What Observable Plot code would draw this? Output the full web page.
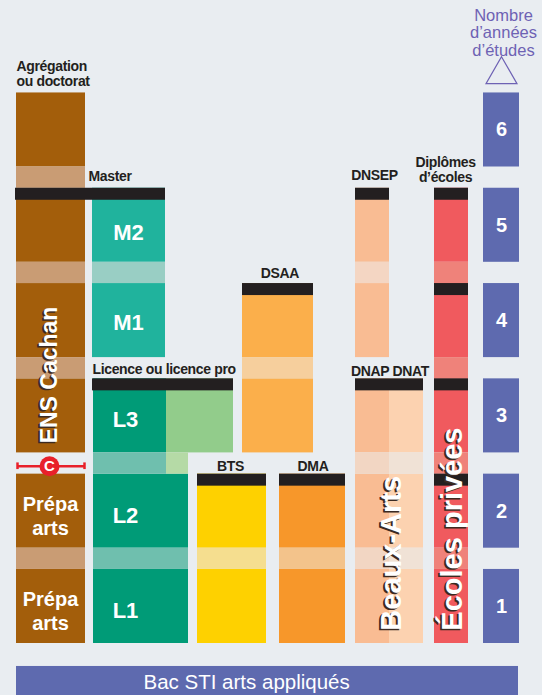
<!DOCTYPE html>
<html><head><meta charset="utf-8">
<script src="https://cdn.jsdelivr.net/npm/d3@7"></script>
<script src="https://cdn.jsdelivr.net/npm/@observablehq/plot@0.6"></script>
<style>body{margin:0;background:#E9EDF1;} svg{display:block}</style>
</head><body><div id="chart"></div><script>
// ---------- DATA ----------
const programmes  = ["Prépa arts","ENS Cachan","Licence","Licence pro","Master","BTS","DMA","DSAA","DNAP","DNAT","DNSEP","Écoles privées"];
const startYears  = [0, 2, 0, 2, 3, 0, 0, 2, 0, 0, 3, 0];
const endYears    = [2, 6, 3, 3, 5, 2, 2, 4, 3, 3, 5, 5];
const mainColors  = ["#A35E0B","#A35E0B","#009B77","#92CC8B","#20B39D","#FED100","#F7972A","#FBAF4B","#F9BC93","#FCD2B0","#F9BC93","#F05A5E"];
const bandColors  = ["#C99C74","#C99C74","#6FBFAE","#B5DAA6","#99CEC4","#F5DE8F","#F3C38B","#F6CF9D","#F2D6C3","#F0E2D6","#F4D6C3","#EF827A"];

const diplomaBars     = ["Master","Licence","BTS","DMA","DSAA","DNSEP","DNAP DNAT","Écoles","Écoles","Écoles","Écoles"];
const diplomaBarYears = [5, 3, 2, 2, 4, 5, 3, 5, 4, 3, 2];

const diplomaLabels = ["Agrégation\nou doctorat","Master","Licence ou licence pro","BTS","DMA","DSAA","DNSEP","DNAP DNAT","Diplômes\nd’écoles"];
const diplomaLabelYears = [6, 5, 3, 2, 2, 4, 5, 3, 5];

const levelLabels = ["L1","L2","L3","M1","M2"];
const levelYears  = [1, 2, 3, 4, 5];
const prepaLabels = ["Prépa\narts","Prépa\narts"];
const prepaYears  = [1, 2];
const yearNumbers = [1, 2, 3, 4, 5, 6];
const verticalLabels = ["ENS Cachan","Beaux-Arts","Écoles privées"];
const baseLabel = "Bac STI arts appliqués";
const axisTitle = "Nombre\nd’années\nd’études";

// ---------- LAYOUT ----------
const S = 0.777;   // solid share of each year (rest = transition band)
const T = 0.126;   // thickness of diploma bar (years)
const layout = {
  colX: {"Prépa arts":[16,85],"ENS Cachan":[16,85],"Licence":[93,188],"Licence pro":[166,233],"Master":[92,165],
         "BTS":[197,266],"DMA":[279,345],"DSAA":[242,313],"DNAP":[355,389],"DNAT":[389,423],"DNSEP":[355,389],"Écoles privées":[434,468]},
  l3Right: 166,
  barX: {"Master":[15,165],"Licence":[92,233],"BTS":[197,266],"DMA":[279,345],"DSAA":[242,313],"DNSEP":[355,389],"DNAP DNAT":[355,423],"Écoles":[434,468]},
  labelX: [16, 88, 92, 230, 312.5, 279.5, 374, 389.5, 445],
  labelAnchor: ["start","start","start","middle","middle","middle","middle","middle","middle"],
  labelDy: [-19, -11.5, -10, -7.5, -7.5, -10.5, -12.5, -8, -18.5],
  levelX: [125,125,125,128,128],
  levelDy: [4,5,4,2,8],
  yearBoxX: [483,519],
  vert: [{x:49, y:2.1}, {x:391, y:0.135}, {x:452, y:0.135}],
  vertSize: [23, 29, 29]
};

// ---------- BUILD ----------
const solids = [], bands = [];
programmes.forEach((p, i) => {
  const a = startYears[i], b = endYears[i];
  const [x1, x2] = layout.colX[p];
  const right = k => (p === "Licence" && k === 3) ? layout.l3Right : x2;
  for (let k = a + 1; k <= b; k++) {
    solids.push({x1, x2: right(k), y1: k - 1, y2: k - 1 + S, fill: mainColors[i]});
    if (k < b) {
      const r = Math.min(right(k), right(k + 1));
      bands.push({x1, x2: r, y1: k - 1 + S, y2: k, fill: bandColors[i]});
      if (r < right(k)) {
        const j = programmes.indexOf("Licence pro");
        bands.push({x1: r, x2: right(k), y1: k - 1 + S, y2: k, fill: bandColors[j]});
      }
    }
  }
});
const bars = diplomaBars.map((d, i) => ({x1: layout.barX[d][0], x2: layout.barX[d][1], y1: diplomaBarYears[i] - 1 + S - T, y2: diplomaBarYears[i] - 1 + S}));
const labels = diplomaLabels.map((t, i) => ({t, x: layout.labelX[i], y: diplomaLabelYears[i] - 1 + S, dy: layout.labelDy[i], anchor: layout.labelAnchor[i]}));
const levels = levelLabels.map((t, i) => ({t, x: layout.levelX[i], y: levelYears[i] - 1 + S / 2, dy: layout.levelDy[i]}));
const prepas = prepaLabels.map((t, i) => ({t, x: 50, y: prepaYears[i] - 1 + S / 2}));
const yearBoxes = yearNumbers.map(k => ({k, y1: k - 1, y2: k - 1 + S}));
const verts = verticalLabels.map((t, i) => ({t, ...layout.vert[i], size: layout.vertSize[i]}));

const FONT = "'Liberation Sans', Arial, sans-serif";
const BLACK = "#231F20", PURPLE = "#5E6AAF", RED = "#E8202A";

const marks = [
  Plot.rect(solids, {x1:"x1", x2:"x2", y1:"y1", y2:"y2", fill:"fill"}),
  Plot.rect(bands,  {x1:"x1", x2:"x2", y1:"y1", y2:"y2", fill:"fill"}),
  Plot.rect(bars,   {x1:"x1", x2:"x2", y1:"y1", y2:"y2", fill: BLACK}),
  Plot.rect(yearBoxes, {x1: layout.yearBoxX[0], x2: layout.yearBoxX[1], y1:"y1", y2:"y2", fill: PURPLE}),
  Plot.text(yearBoxes, {x: (layout.yearBoxX[0] + layout.yearBoxX[1]) / 2, y: d => d.y1 + S / 2, text: d => String(d.k), fill:"white", fontSize:20, fontWeight:"bold", fontFamily: FONT}),
  // base bar
  Plot.rect([baseLabel], {x1:16, x2:518, y1:-0.6, y2:-0.241, fill: PURPLE}),
  Plot.text([baseLabel], {x:143, y:-0.405, text: d => d, textAnchor:"start", fill:"white", fontSize:20.5, fontFamily: FONT}),
  // axis title + triangle
  Plot.text([axisTitle], {x:503, y:6, dy:-39, text: d => d, fill:"#6E62B4", fontSize:16.5, lineHeight:1.06, fontFamily: FONT}),
  Plot.dot([axisTitle], {x:501, y:6, dy:3, symbol:"triangle", r:11.5, fill:"none", stroke:"#6E62B4", strokeWidth:1.2}),
  // C marker
  Plot.ruleY([1.86], {x1:17, x2:84, stroke: RED, strokeWidth:2.5}),
  Plot.ruleX([17, 84], {y1:1.825, y2:1.895, stroke: RED, strokeWidth:2.5}),
  Plot.dot([1.86], {x:49, y: d => d, r:10, fill: RED}),
  Plot.text([1.86], {x:49, y: d => d, text: () => "C", fill:"white", fontSize:15, fontWeight:"bold", fontFamily: FONT}),
  // diploma labels
  ...labels.map(l => Plot.text([l], {x:"x", y:"y", dy: l.dy, text:"t", textAnchor: l.anchor, fill: BLACK, fontSize:14, fontWeight:"bold", lineHeight:1.04, fontFamily: FONT, ariaDescription:"diploma-label"})),
  // level labels
  ...levels.map(l => Plot.text([l], {x:"x", y:"y", dy: l.dy, text:"t", fill:"white", fontSize:22, fontWeight:"bold", fontFamily: FONT})),
  Plot.text(prepas, {x:"x", y:"y", dy:4, text:"t", fill:"white", fontSize:20, fontWeight:"bold", lineHeight:1.2, fontFamily: FONT}),
  // vertical labels (shadow then white)
  ...verts.map(v => Plot.text([v], {x:"x", y:"y", dx:-1.5, dy:1.5, text:"t", rotate:-90, textAnchor:"start", fill:"#3b2a22", fontSize:v.size, fontWeight:"bold", fontFamily: FONT})),
  ...verts.map(v => Plot.text([v], {x:"x", y:"y", text:"t", rotate:-90, textAnchor:"start", fill:"white", fontSize:v.size, fontWeight:"bold", fontFamily: FONT}))
];

const chart = Plot.plot({
  width: 542, height: 695, margin: 0,
  style: {background: "#E9EDF1", fontFamily: FONT, overflow: "hidden"},
  x: {type: "linear", domain: [0, 542], range: [0, 542], axis: null},
  y: {type: "linear", domain: [0, 6], range: [643, 71.2], axis: null},
  color: {type: "identity"},
  marks
});
// slightly condensed look for the black diploma labels
chart.querySelectorAll('g[aria-description="diploma-label"]').forEach(g => g.setAttribute("letter-spacing", "-0.35"));
document.getElementById("chart").appendChild(chart);
</script></body></html>
